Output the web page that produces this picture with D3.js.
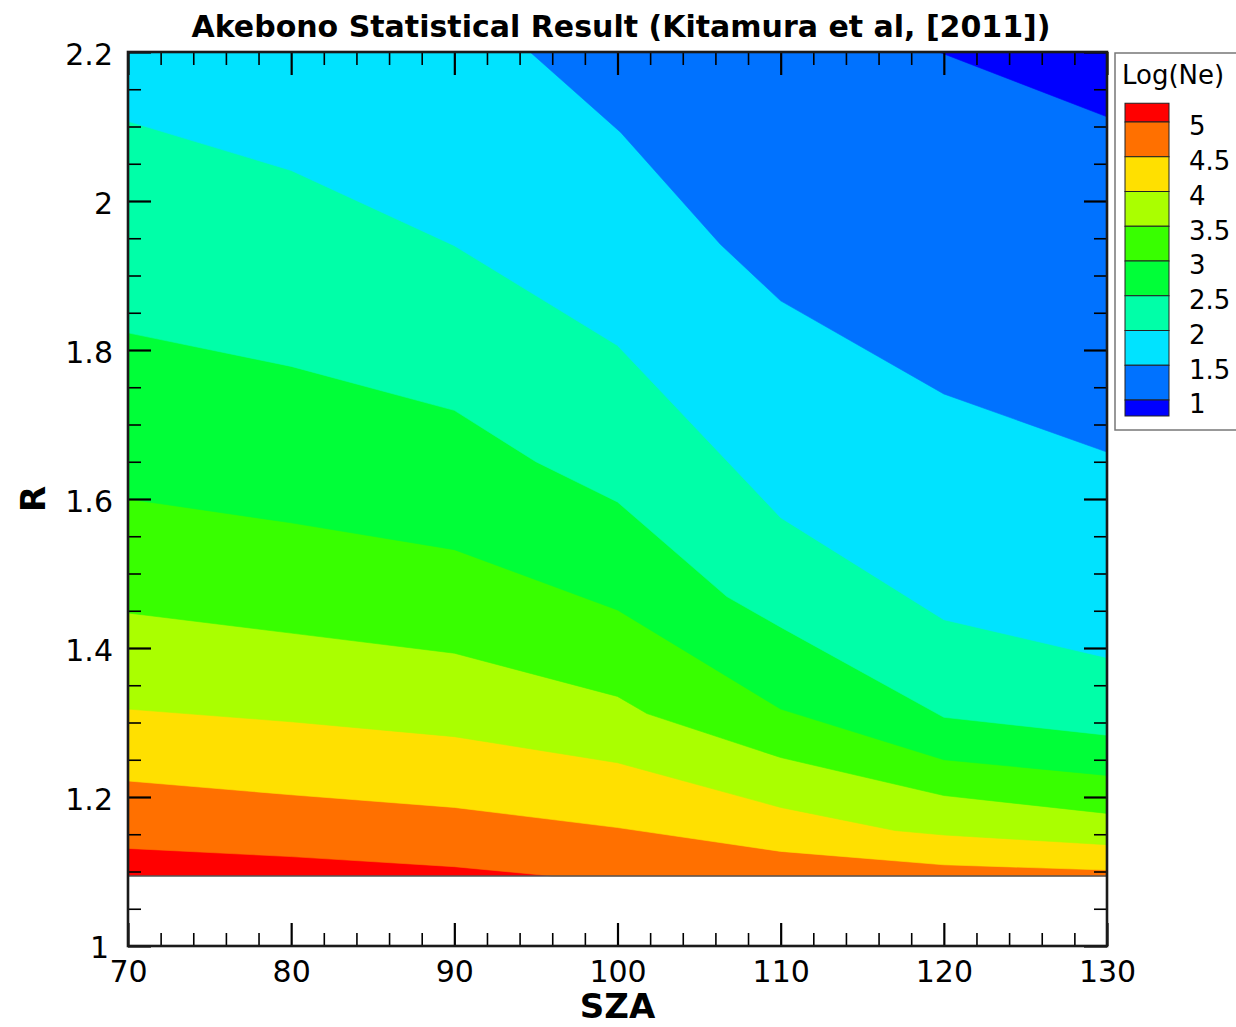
<!DOCTYPE html>
<html>
<head>
<meta charset="utf-8">
<script src="https://cdn.jsdelivr.net/npm/d3@7"></script>
<style>
  body { margin: 0; background: #fff; }
  svg { display: block; font-family: "DejaVu Sans", sans-serif; }
  .tick line { stroke: #000; }
</style>
</head>
<body>
<div id="chart"></div>
<script>
// contour levels of Log(Ne) and the colour of each band (top band first)
const levels = [5, 4.5, 4, 3.5, 3, 2.5, 2, 1.5, 1]
const bandColors = ['#ff0000', '#ff7000', '#ffe000', '#aaff00', '#38ff00',
                    '#00ff38', '#00ffa8', '#00e3ff', '#0072ff', '#0000ff']

// lowest R with data
const rMin = 1.094

// boundary lines [SZA, R]
const level5  = [[70, 1.131], [80, 1.120], [90, 1.1065], [96, 1.094]]
const level45 = [[70, 1.2215], [80, 1.203], [90, 1.186], [100, 1.159], [110, 1.127], [120, 1.109], [130, 1.102]]
const level4  = [[70, 1.318], [80, 1.301], [90, 1.281], [100, 1.246], [110, 1.186], [117, 1.155], [120, 1.149], [130, 1.136]]
const level35 = [[70, 1.447], [80, 1.420], [90, 1.393], [100, 1.335], [101.8, 1.312], [110, 1.253], [120, 1.202], [130, 1.178]]
const level3  = [[70, 1.600], [80, 1.568], [90, 1.532], [100, 1.451], [110, 1.318], [120, 1.250], [130, 1.229]]
const level25 = [[70, 1.823], [80, 1.778], [90, 1.719], [95, 1.650], [100, 1.596], [106.7, 1.469], [110, 1.428], [120, 1.307], [130, 1.283]]
const level2  = [[70, 2.107], [80, 2.041], [90, 1.940], [100, 1.806], [110, 1.575], [120, 1.438], [130, 1.387]]
const level15 = [[94.64, 2.2], [100.2, 2.092], [106.3, 1.942], [110, 1.866], [120, 1.741], [130, 1.663]]
const level1  = [[119.7, 2.2], [130, 2.113]]
const boundaries = [level5, level45, level4, level35, level3, level25, level2, level15, level1]

// axes
const szaDomain = [70, 130]
const rDomain = [1, 2.2]
const szaMajor = d3.range(70, 131, 10)
const szaMinor = d3.range(70, 131, 2).filter(d => d % 10 !== 0)
const rMajor = [1, 1.2, 1.4, 1.6, 1.8, 2, 2.2]
const rMinor = d3.range(1, 2.2001, 0.05).map(d => +d.toFixed(2)).filter(d => Math.round(d * 100) % 20 !== 0)

const W = 1236, H = 1027
const pLeft = 128, pRight = 1107, pTop = 52, pBottom = 946

let svg = d3.select('#chart').append('svg')
    .attr('width', W)
    .attr('height', H)

let x = d3.scaleLinear().domain(szaDomain).range([pLeft, pRight])
let y = d3.scaleLinear().domain(rDomain).range([pBottom, pTop])

svg.append('clipPath').attr('id', 'plotclip')
  .append('rect')
    .attr('x', pLeft).attr('y', pTop)
    .attr('width', pRight - pLeft).attr('height', pBottom - pTop)

let line = d3.line().x(d => x(d[0])).y(d => y(d[1]))

let plot = svg.append('g').attr('clip-path', 'url(#plotclip)')

// base band (above 5) covers all data
plot.append('path')
    .attr('d', line([[70, rMin], [130, rMin], [130, 2.2], [70, 2.2]]) + 'Z')
    .attr('fill', bandColors[0])

// paint each lower level's region on top (region above the boundary)
boundaries.forEach((b, i) => {
    let poly = b.slice()
    let last = b[b.length - 1]
    if (last[0] < 130) poly.push([130, last[1]])
    poly.push([130, 2.2], [70, 2.2])
    plot.append('path')
        .attr('d', line(poly) + 'Z')
        .attr('fill', bandColors[i + 1])
        .attr('stroke', bandColors[i + 1])
        .attr('stroke-width', 0.6)
})

// edge of data
svg.append('line')
    .attr('x1', x(70)).attr('x2', x(130))
    .attr('y1', y(rMin)).attr('y2', y(rMin))
    .attr('stroke', '#555').attr('stroke-width', 1.6)

// ticks, all pointing inside
let addAxis = (axis, transform, values, size, width, labels) => {
    let g = svg.append('g')
        .attr('transform', transform)
        .call(axis.tickValues(values).tickSize(-size).tickSizeOuter(0)
            .tickPadding(labels ? 15 : 0)
            .tickFormat(labels ? d3.format('') : ''))
    g.select('.domain').remove()
    g.selectAll('.tick line').attr('stroke-width', width)
    g.selectAll('.tick text')
        .attr('font-size', 30)
        .attr('fill', '#000')
        .attr('font-family', '"DejaVu Sans", sans-serif')
    return g
}

let xb = addAxis(d3.axisBottom(x), `translate(0,${pBottom})`, szaMajor, 23, 2.2, true)
addAxis(d3.axisBottom(x), `translate(0,${pBottom})`, szaMinor, 13, 1.6, false)
addAxis(d3.axisTop(x), `translate(0,${pTop})`, szaMajor, 23, 2.2, false)
addAxis(d3.axisTop(x), `translate(0,${pTop})`, szaMinor, 13, 1.6, false)
let yl = addAxis(d3.axisLeft(y), `translate(${pLeft},0)`, rMajor, 23, 2.2, true)
addAxis(d3.axisLeft(y), `translate(${pLeft},0)`, rMinor, 13, 1.6, false)
addAxis(d3.axisRight(y), `translate(${pRight},0)`, rMajor, 23, 2.2, false)
addAxis(d3.axisRight(y), `translate(${pRight},0)`, rMinor, 13, 1.6, false)

// the corner labels sit a little away from the corner
xb.selectAll('.tick text').attr('dy', '0.7em')
yl.selectAll('.tick text').attr('dy', '0.43em')
yl.selectAll('.tick').filter(d => d === 1).select('text').attr('x', -19).attr('dy', '0.38em')

// frame
svg.append('rect')
    .attr('x', pLeft).attr('y', pTop)
    .attr('width', pRight - pLeft).attr('height', pBottom - pTop)
    .attr('fill', 'none')
    .attr('stroke', '#1a1a1a')
    .attr('stroke-width', 2.6)

// titles
svg.append('text')
    .attr('x', 621).attr('y', 37)
    .attr('text-anchor', 'middle')
    .attr('font-size', 30).attr('font-weight', 'bold')
    .text('Akebono Statistical Result (Kitamura et al, [2011])')

svg.append('text')
    .attr('x', (pLeft + pRight) / 2).attr('y', 1018)
    .attr('text-anchor', 'middle')
    .attr('font-size', 34).attr('font-weight', 'bold')
    .text('SZA')

svg.append('text')
    .attr('transform', `translate(45,${(pTop + pBottom) / 2}) rotate(-90)`)
    .attr('text-anchor', 'middle')
    .attr('font-size', 34).attr('font-weight', 'bold')
    .text('R')

// legend
let legend = svg.append('g')
legend.append('rect')
    .attr('x', 1115).attr('y', 53)
    .attr('width', 140).attr('height', 377)
    .attr('fill', '#fff')
    .attr('stroke', '#777').attr('stroke-width', 1.5)

legend.append('text')
    .attr('x', 1122).attr('y', 84)
    .attr('font-size', 26)
    .text('Log(Ne)')

let ly = d3.scaleLinear().domain([1, 5]).range([400, 122])
let edges = [5.27].concat(levels, [0.77])
bandColors.forEach((c, i) => {
    legend.append('rect')
        .attr('x', 1125).attr('width', 44)
        .attr('y', ly(edges[i]))
        .attr('height', ly(edges[i + 1]) - ly(edges[i]))
        .attr('fill', c)
        .attr('stroke', '#222').attr('stroke-width', 1)
})
legend.selectAll('.lab').data(levels).enter().append('text')
    .attr('class', 'lab')
    .attr('x', 1189)
    .attr('y', d => ly(d) + 4)
    .attr('dy', '0.36em')
    .attr('font-size', 26)
    .text(d => d)
</script>
</body>
</html>
